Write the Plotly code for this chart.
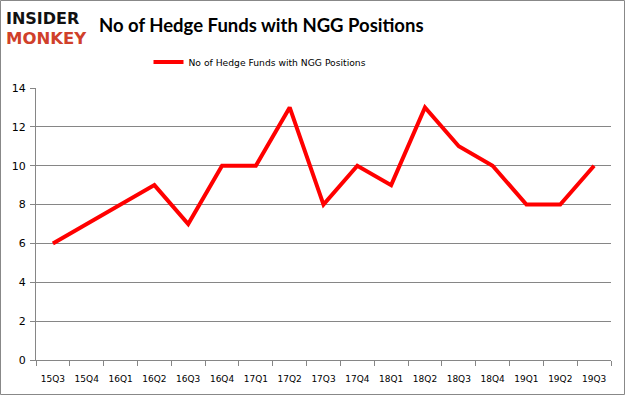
import plotly.graph_objects as go

quarters = ["15Q3","15Q4","16Q1","16Q2","16Q3","16Q4","17Q1","17Q2","17Q3","17Q4",
            "18Q1","18Q2","18Q3","18Q4","19Q1","19Q2","19Q3"]
funds = [6, 7, 8, 9, 7, 10, 10, 13, 8, 10, 9, 13, 11, 10, 8, 8, 10]
series_name = "No of Hedge Funds with NGG Positions"
title_text = "No of Hedge Funds with NGG Positions"

W, H = 625, 395
ml, mr, mt, mb = 36, 14, 88, 35
pw, ph = W - ml - mr, H - mt - mb

fig = go.Figure()
fig.add_trace(go.Scatter(x=quarters, y=funds, mode="lines", name=series_name,
                         line=dict(color="#FF0000", width=4)))

def px(xp):
    return (xp - ml) / pw
def py(yp):
    return (H - mb - yp) / ph

fig.update_layout(
    width=W, height=H,
    margin=dict(l=ml, r=mr, t=mt, b=mb, autoexpand=False),
    paper_bgcolor="white", plot_bgcolor="white",
    showlegend=True,
    legend=dict(orientation="h", x=px(260), y=py(62), xanchor="center", yanchor="middle",
                itemwidth=30,
                font=dict(family="DejaVu Sans", size=9.2, color="#000000"),
                bgcolor="rgba(0,0,0,0)"),
    xaxis=dict(type="category", range=[-0.5, 16.5], showgrid=False,
               showline=True, linecolor="#868686", linewidth=1, tickangle=0,
               automargin=False, ticklabelstandoff=10,
               ticks="outside", tickson="boundaries", ticklen=5, tickcolor="#868686",
               tickfont=dict(family="DejaVu Sans", size=9, color="#000000")),
    yaxis=dict(range=[0, 14], dtick=2, showgrid=True, gridcolor="#868686", gridwidth=1,
               showline=True, linecolor="#868686", linewidth=1, automargin=False,
               ticklabelstandoff=2,
               ticks="outside", ticklen=5, tickcolor="#868686", zeroline=False,
               tickfont=dict(family="DejaVu Sans", size=11, color="#000000")),
    shapes=[dict(type="rect", xref="paper", yref="paper",
                 x0=px(0.5), x1=px(624.5), y0=py(394.5), y1=py(0.5),
                 line=dict(color="#888888", width=1), fillcolor="rgba(0,0,0,0)", layer="below")],
    annotations=[
        dict(text="<b>" + title_text + "</b>", xref="paper", yref="paper",
             x=px(261), y=py(25), xanchor="center", yanchor="middle", showarrow=False,
             font=dict(family="Lato", size=18.5, color="#000000")),
        dict(text="<b>INSIDER</b>", xref="paper", yref="paper",
             x=px(4), y=py(18), xanchor="left", yanchor="middle", showarrow=False,
             font=dict(family="DejaVu Sans", size=16, color="#111111")),
        dict(text="<b>MONKEY</b>", xref="paper", yref="paper",
             x=px(4), y=py(39), xanchor="left", yanchor="middle", showarrow=False,
             font=dict(family="DejaVu Sans", size=16.5, color="#D0402A")),
    ],
)

fig.write_html("out.html", config={"displayModeBar": False},
               post_script="document.body.style.margin='0';")
